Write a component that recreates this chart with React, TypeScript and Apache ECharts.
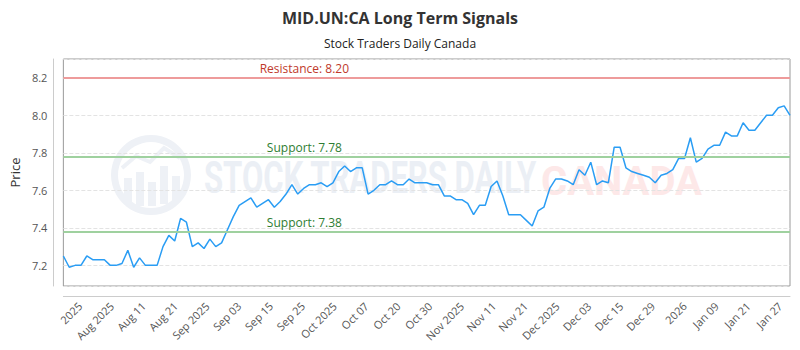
import React, { useEffect, useRef } from "react";
import * as echarts from "echarts";

const TITLE = "MID.UN:CA Long Term Signals";
const SUBTITLE = "Stock Traders Daily Canada";

const tickLabels = [
  "2025", "Aug 2025", "Aug 11", "Aug 21", "Sep 2025", "Sep 03", "Sep 15", "Sep 25",
  "Oct 2025", "Oct 07", "Oct 20", "Oct 30", "Nov 2025", "Nov 11", "Nov 21", "Dec 2025",
  "Dec 03", "Dec 15", "Dec 29", "2026", "Jan 09", "Jan 21", "Jan 27",
];

const prices = [
  7.25, 7.19, 7.20, 7.20, 7.25, 7.23, 7.23, 7.23, 7.20, 7.20,
  7.21, 7.28, 7.19, 7.24, 7.20, 7.20, 7.20, 7.30, 7.36, 7.33,
  7.45, 7.43, 7.30, 7.32, 7.29, 7.34, 7.30, 7.32, 7.39, 7.46,
  7.52, 7.54, 7.56, 7.51, 7.53, 7.55, 7.51, 7.54, 7.58, 7.63,
  7.58, 7.61, 7.63, 7.63, 7.64, 7.62, 7.64, 7.70, 7.73, 7.70,
  7.72, 7.72, 7.58, 7.60, 7.63, 7.63, 7.65, 7.63, 7.63, 7.66,
  7.64, 7.64, 7.64, 7.63, 7.63, 7.57, 7.57, 7.55, 7.55, 7.53,
  7.47, 7.52, 7.52, 7.62, 7.65, 7.57, 7.47, 7.47, 7.47, 7.44,
  7.41, 7.49, 7.51, 7.61, 7.66, 7.66, 7.65, 7.63, 7.71, 7.68,
  7.75, 7.63, 7.65, 7.64, 7.83, 7.83, 7.72, 7.70, 7.69, 7.68,
  7.67, 7.64, 7.68, 7.69, 7.71, 7.77, 7.77, 7.88, 7.75, 7.77,
  7.82, 7.84, 7.84, 7.91, 7.89, 7.89, 7.96, 7.92, 7.92, 7.96,
  8.00, 8.00, 8.04, 8.05, 8.00,
];

// trading-day categories (weekdays) for each price point
const dates: string[] = (() => {
  const out: string[] = [];
  const d = new Date(Date.UTC(2025, 6, 24));
  while (out.length < prices.length) {
    const wd = d.getUTCDay();
    if (wd !== 0 && wd !== 6) out.push(d.toISOString().slice(0, 10));
    d.setUTCDate(d.getUTCDate() + 1);
  }
  return out;
})();

const RESISTANCE = 8.2;
const SUPPORT_HIGH = 7.78;
const SUPPORT_LOW = 7.38;
const Y_MIN = 7.09;
const Y_MAX = 8.3;

const FONT = "'Open Sans', sans-serif";

export default function App() {
  const ref = useRef<HTMLDivElement>(null);
  useEffect(() => {
    if (!ref.current) return;
    const chart = echarts.init(ref.current, undefined, { renderer: "svg" });
    const levelLabel = (color: string) => ({
      show: true,
      position: "insideStartTop",
      distance: [241, 3],
      align: "center",
      color,
      fontSize: 12,
      fontFamily: FONT,
    });
    const wm = "#eef1f6";
    chart.setOption({
      animation: false,
      textStyle: { fontFamily: FONT },
      title: [
        {
          text: TITLE,
          left: "center",
          top: 5,
          textStyle: { fontSize: 16, fontWeight: "bold", color: "#333", fontFamily: FONT },
        },
        {
          text: SUBTITLE,
          left: "center",
          top: 32,
          textStyle: { fontSize: 12, fontWeight: "normal", color: "#222", fontFamily: FONT },
        },
      ],
      graphic: [
        {
          type: "ring",
          shape: { cx: 151, cy: 175, r: 40, r0: 33 },
          style: { fill: wm },
          silent: true,
          z: 0,
        },
        {
          type: "group",
          silent: true,
          z: 0,
          children: [
            { type: "rect", shape: { x: 124, y: 178, width: 8, height: 26 }, style: { fill: wm } },
            { type: "rect", shape: { x: 136, y: 172, width: 8, height: 34 }, style: { fill: wm } },
            { type: "rect", shape: { x: 148, y: 182, width: 8, height: 24 }, style: { fill: wm } },
            { type: "rect", shape: { x: 160, y: 166, width: 8, height: 38 }, style: { fill: wm } },
            { type: "rect", shape: { x: 172, y: 176, width: 8, height: 26 }, style: { fill: wm } },
            {
              type: "polyline",
              shape: { points: [[122, 168], [136, 156], [150, 162], [164, 148], [180, 158]] },
              style: { stroke: wm, lineWidth: 4, fill: null },
            },
          ],
        },
        {
          type: "text",
          x: 204,
          y: 177,
          scaleX: 0.69,
          silent: true,
          z: 0,
          style: {
            text: "STOCK TRADERS DAILY",
            fontFamily: "Roboto",
            fontWeight: "bold",
            fontSize: 45,
            fill: "#ebeff5",
            verticalAlign: "middle",
            align: "left",
          },
        },
        {
          type: "text",
          x: 541,
          y: 181,
          silent: true,
          z: 0,
          style: {
            text: "CANADA",
            fontFamily: "Roboto",
            fontWeight: "bold",
            fontSize: 40,
            fill: "#fde8e8",
            verticalAlign: "middle",
            align: "left",
          },
        },
      ],
      grid: [
        { left: 63, right: 10, top: 59, bottom: 64, show: true, borderColor: "#999", borderWidth: 1 },
        { left: 64, right: 4, top: 59, bottom: 64, show: false },
      ],
      xAxis: [
        {
          type: "category",
          gridIndex: 0,
          data: dates,
          boundaryGap: false,
          offset: 10,
          axisLine: { show: true, lineStyle: { color: "#ccc" } },
          axisTick: { show: false },
          axisLabel: { show: false },
          splitLine: { show: false },
        },
        {
          type: "category",
          gridIndex: 1,
          data: tickLabels,
          boundaryGap: true,
          offset: 10,
          axisLine: { show: false },
          axisTick: { show: false },
          axisLabel: {
            interval: 0,
            rotate: 45,
            margin: 8,
            fontSize: 11,
            color: "#555",
            fontFamily: FONT,
          },
          splitLine: { show: false },
        },
      ],
      yAxis: [
        {
          type: "value",
          gridIndex: 0,
          min: Y_MIN,
          max: Y_MAX,
          splitNumber: 6,
          offset: 10,
          name: "Price",
          nameLocation: "middle",
          nameGap: 32,
          nameTextStyle: { fontSize: 13, color: "#333", fontFamily: FONT },
          axisLine: { show: true, lineStyle: { color: "#ccc" } },
          axisTick: { show: false },
          axisLabel: {
            showMinLabel: false,
            showMaxLabel: false,
            margin: 6,
            fontSize: 11,
            color: "#555",
            fontFamily: FONT,
            formatter: (v: number) => v.toFixed(1),
          },
          splitLine: { show: true, lineStyle: { color: "#e3e3e3", type: "dashed" } },
        },
        { type: "value", gridIndex: 1, show: false, min: 0, max: 1, splitLine: { show: false } },
      ],
      series: [
        {
          type: "line",
          xAxisIndex: 0,
          yAxisIndex: 0,
          data: prices,
          showSymbol: false,
          symbol: "none",
          lineStyle: { color: "#2a9df4", width: 1.5 },
          z: 3,
          markLine: {
            silent: true,
            symbol: "none",
            data: [
              {
                yAxis: RESISTANCE,
                lineStyle: { color: "#ee9b9b", width: 2, type: "solid" },
                label: { ...levelLabel("#c0392b"), formatter: "Resistance: " + RESISTANCE.toFixed(2) },
              },
              {
                yAxis: SUPPORT_HIGH,
                lineStyle: { color: "#9fd19f", width: 2, type: "solid" },
                label: { ...levelLabel("#2e7d32"), formatter: "Support: " + SUPPORT_HIGH.toFixed(2) },
              },
              {
                yAxis: SUPPORT_LOW,
                lineStyle: { color: "#9fd19f", width: 2, type: "solid" },
                label: { ...levelLabel("#2e7d32"), formatter: "Support: " + SUPPORT_LOW.toFixed(2) },
              },
            ],
          },
        },
      ],
    });
    return () => chart.dispose();
  }, []);
  return <div ref={ref} style={{ width: 800, height: 350, margin: -8 }} />;
}
